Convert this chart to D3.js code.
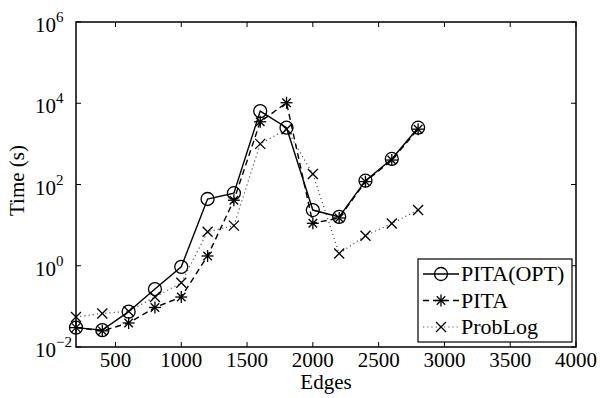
<!DOCTYPE html>
<html><head><meta charset="utf-8">
<script src="https://cdn.jsdelivr.net/npm/d3@7"></script>
<style>body{margin:0;background:#fff}svg{display:block}text{font-family:"Liberation Serif","Times New Roman",serif;fill:#000}</style>
</head><body><svg id="c" width="600" height="398"></svg>
<script>
const edges = [200,400,600,800,1000,1200,1400,1600,1800,2000,2200,2400,2600,2800];
const pitaOpt = [0.030,0.026,0.074,0.267,0.94,44,61,6400,2500,23.5,16,124,425,2500];
const pita    = [0.030,0.025,0.039,0.094,0.17,1.74,41,3500,10300,11.1,15,118,400,2300];
const probLog = [0.055,0.067,0.076,0.17,0.38,6.9,9.7,1000,2300,181,2.0,5.5,11,23.5];
const xTicks = [500,1000,1500,2000,2500,3000,3500,4000];
const yExps = [-2,0,2,4,6];
const seriesNames = ["PITA(OPT)","PITA","ProbLog"];

const svg = d3.select("#c");
const L=76,R=576,T=22,B=347;
const x = d3.scaleLinear().domain([200,4000]).range([L,R]);
const y = d3.scaleLog().domain([1e-2,1e6]).range([B,T]);
const FS = 21;

// frame
const g = svg.append("g");
g.append("rect").attr("x",L).attr("y",T).attr("width",R-L).attr("height",B-T)
 .attr("fill","none").attr("stroke","#000").attr("stroke-width",1.5);
const TL=5;
xTicks.forEach(v=>{
  g.append("line").attr("x1",x(v)).attr("x2",x(v)).attr("y1",B).attr("y2",B-TL).attr("stroke","#000");
  g.append("line").attr("x1",x(v)).attr("x2",x(v)).attr("y1",T).attr("y2",T+TL).attr("stroke","#000");
  g.append("text").attr("x",x(v)).attr("y",B+20).attr("text-anchor","middle").attr("font-size",FS).text(v);
});
yExps.forEach(e=>{
  const yy=y(Math.pow(10,e));
  g.append("line").attr("x1",L).attr("x2",L+TL).attr("y1",yy).attr("y2",yy).attr("stroke","#000");
  g.append("line").attr("x1",R).attr("x2",R-TL).attr("y1",yy).attr("y2",yy).attr("stroke","#000");
  const t=g.append("text").attr("x",35).attr("y",yy+10).attr("font-size",FS);
  t.append("tspan").text("10");
  t.append("tspan").attr("font-size",15).attr("dy",-10).text(e<0?"\u2212"+(-e):e);
});
g.append("text").attr("x",(L+R)/2).attr("y",389).attr("text-anchor","middle").attr("font-size",FS).text("Edges");
g.append("text").attr("transform","translate(24,"+((T+B)/2 - 4)+") rotate(-90)").attr("text-anchor","middle").attr("font-size",FS).text("Time (s)");

// markers
function drawMarker(sel,type,cx,cy){
  if(type==="o"){
    sel.append("circle").attr("cx",cx).attr("cy",cy).attr("r",6.5).attr("fill","none").attr("stroke","#000").attr("stroke-width",1.3);
  } else if(type==="*"){
    const s=6, d=s*0.707;
    [[-s,0,s,0],[0,-s,0,s],[-d,-d,d,d],[-d,d,d,-d]].forEach(a=>
      sel.append("line").attr("x1",cx+a[0]).attr("y1",cy+a[1]).attr("x2",cx+a[2]).attr("y2",cy+a[3]).attr("stroke","#000").attr("stroke-width",1.3));
  } else {
    const s=5;
    [[-s,-s,s,s],[-s,s,s,-s]].forEach(a=>
      sel.append("line").attr("x1",cx+a[0]).attr("y1",cy+a[1]).attr("x2",cx+a[2]).attr("y2",cy+a[3]).attr("stroke","#000").attr("stroke-width",1.3));
  }
}
const styles = [
  {data:pitaOpt, dash:null, color:"#000", w:1.4, m:"o"},
  {data:pita, dash:"6,4", color:"#000", w:1.4, m:"*"},
  {data:probLog, dash:"1.2,3", color:"#555", w:1.2, m:"x"}
];
const line = d3.line().x(d=>x(d[0])).y(d=>y(d[1]));
const plot = svg.append("g");
styles.slice().reverse().forEach(s=>{
  const pts = edges.map((e,i)=>[e,s.data[i]]);
  plot.append("path").attr("d",line(pts)).attr("fill","none").attr("stroke",s.color)
    .attr("stroke-width",s.w).attr("stroke-dasharray",s.dash);
  pts.forEach(p=>drawMarker(plot,s.m,x(p[0]),y(p[1])));
});

// legend
const lg = svg.append("g");
lg.append("rect").attr("x",418).attr("y",259).attr("width",154).attr("height",83)
  .attr("fill","#fff").attr("stroke","#000").attr("stroke-width",1.2);
seriesNames.forEach((n,i)=>{
  const s=styles[i], yy=274+i*26.5;
  lg.append("line").attr("x1",423).attr("x2",459).attr("y1",yy).attr("y2",yy)
    .attr("stroke",s.color).attr("stroke-width",s.w).attr("stroke-dasharray",s.dash);
  drawMarker(lg,s.m,441,yy);
  lg.append("text").attr("x",461).attr("y",yy+7).attr("font-size",22).text(n);
});
</script></body></html>
